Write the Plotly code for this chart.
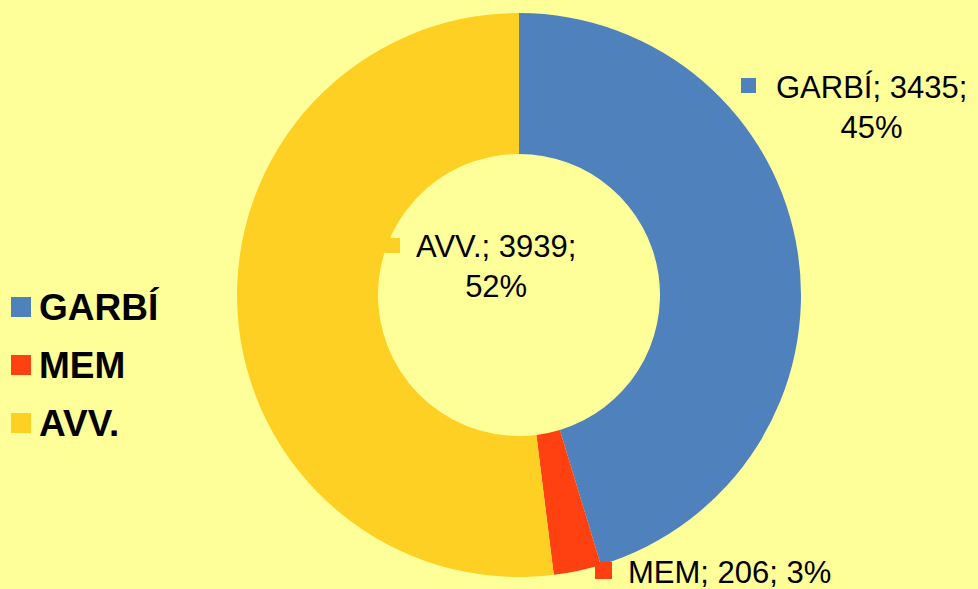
import plotly.graph_objects as go

labels = ["GARBÍ", "MEM", "AVV."]
values = [3435, 206, 3939]
colors = ["#4F81BD", "#FF4010", "#FFD024"]

W, H = 978, 589
BG = "#FFFF99"

def px(x):
    return x / W

def py(y):
    return 1 - y / H

total = sum(values)
pcts = [round(v * 100 / total) for v in values]

cx, cy, r = 519, 295, 282
fig = go.Figure(go.Pie(
    labels=labels, values=values, sort=False, direction="clockwise", rotation=0,
    hole=0.5, textinfo="none", hoverinfo="label+value+percent",
    marker=dict(colors=colors, line=dict(width=0)),
    domain=dict(x=[px(cx - r), px(cx + r)], y=[py(cy + r), py(cy - r)]),
    showlegend=False,
))

# data labels: (square x0,y0,size), text center, text
label_layout = [
    dict(sq=(741, 78, 15), tx=871, ty=107, br=True),
    dict(sq=(595, 562, 17), tx=729, ty=572, br=False),
    dict(sq=(385, 238, 15), tx=496, ty=266, br=True),
]
shapes = []
annotations = []
for i, lay in enumerate(label_layout):
    x0, y0, s = lay["sq"]
    shapes.append(dict(type="rect", xref="paper", yref="paper",
                       x0=px(x0), x1=px(x0 + s), y0=py(y0 + s), y1=py(y0),
                       fillcolor=colors[i], line=dict(width=0), layer="above"))
    sep = "<br>" if lay["br"] else " "
    txt = f"{labels[i]}; {values[i]};{sep}{pcts[i]}%"
    annotations.append(dict(x=px(lay["tx"]), y=py(lay["ty"]), xref="paper", yref="paper",
                            text=txt, showarrow=False, xanchor="center", yanchor="middle",
                            font=dict(family="Liberation Sans, Arial", size=31, color="black")))

# legend
leg_y = [307, 365, 423]
for i, lab in enumerate(labels):
    yc = leg_y[i]
    shapes.append(dict(type="rect", xref="paper", yref="paper",
                       x0=px(11), x1=px(31), y0=py(yc + 10), y1=py(yc - 10),
                       fillcolor=colors[i], line=dict(width=0)))
    annotations.append(dict(x=px(37), y=py(yc), xref="paper", yref="paper",
                            text=f"<b>{lab}</b>", showarrow=False, xanchor="left", yanchor="middle",
                            font=dict(family="Liberation Sans, Arial", size=37, color="black")))

fig.update_layout(
    width=W, height=H, margin=dict(l=0, r=0, t=0, b=0),
    paper_bgcolor=BG, plot_bgcolor=BG,
    shapes=shapes, annotations=annotations,
)
fig.write_html("out.html", config=dict(displayModeBar=False),
               post_script="document.body.style.margin='0';document.body.style.background='#FFFF99';document.body.style.overflow='hidden';")
